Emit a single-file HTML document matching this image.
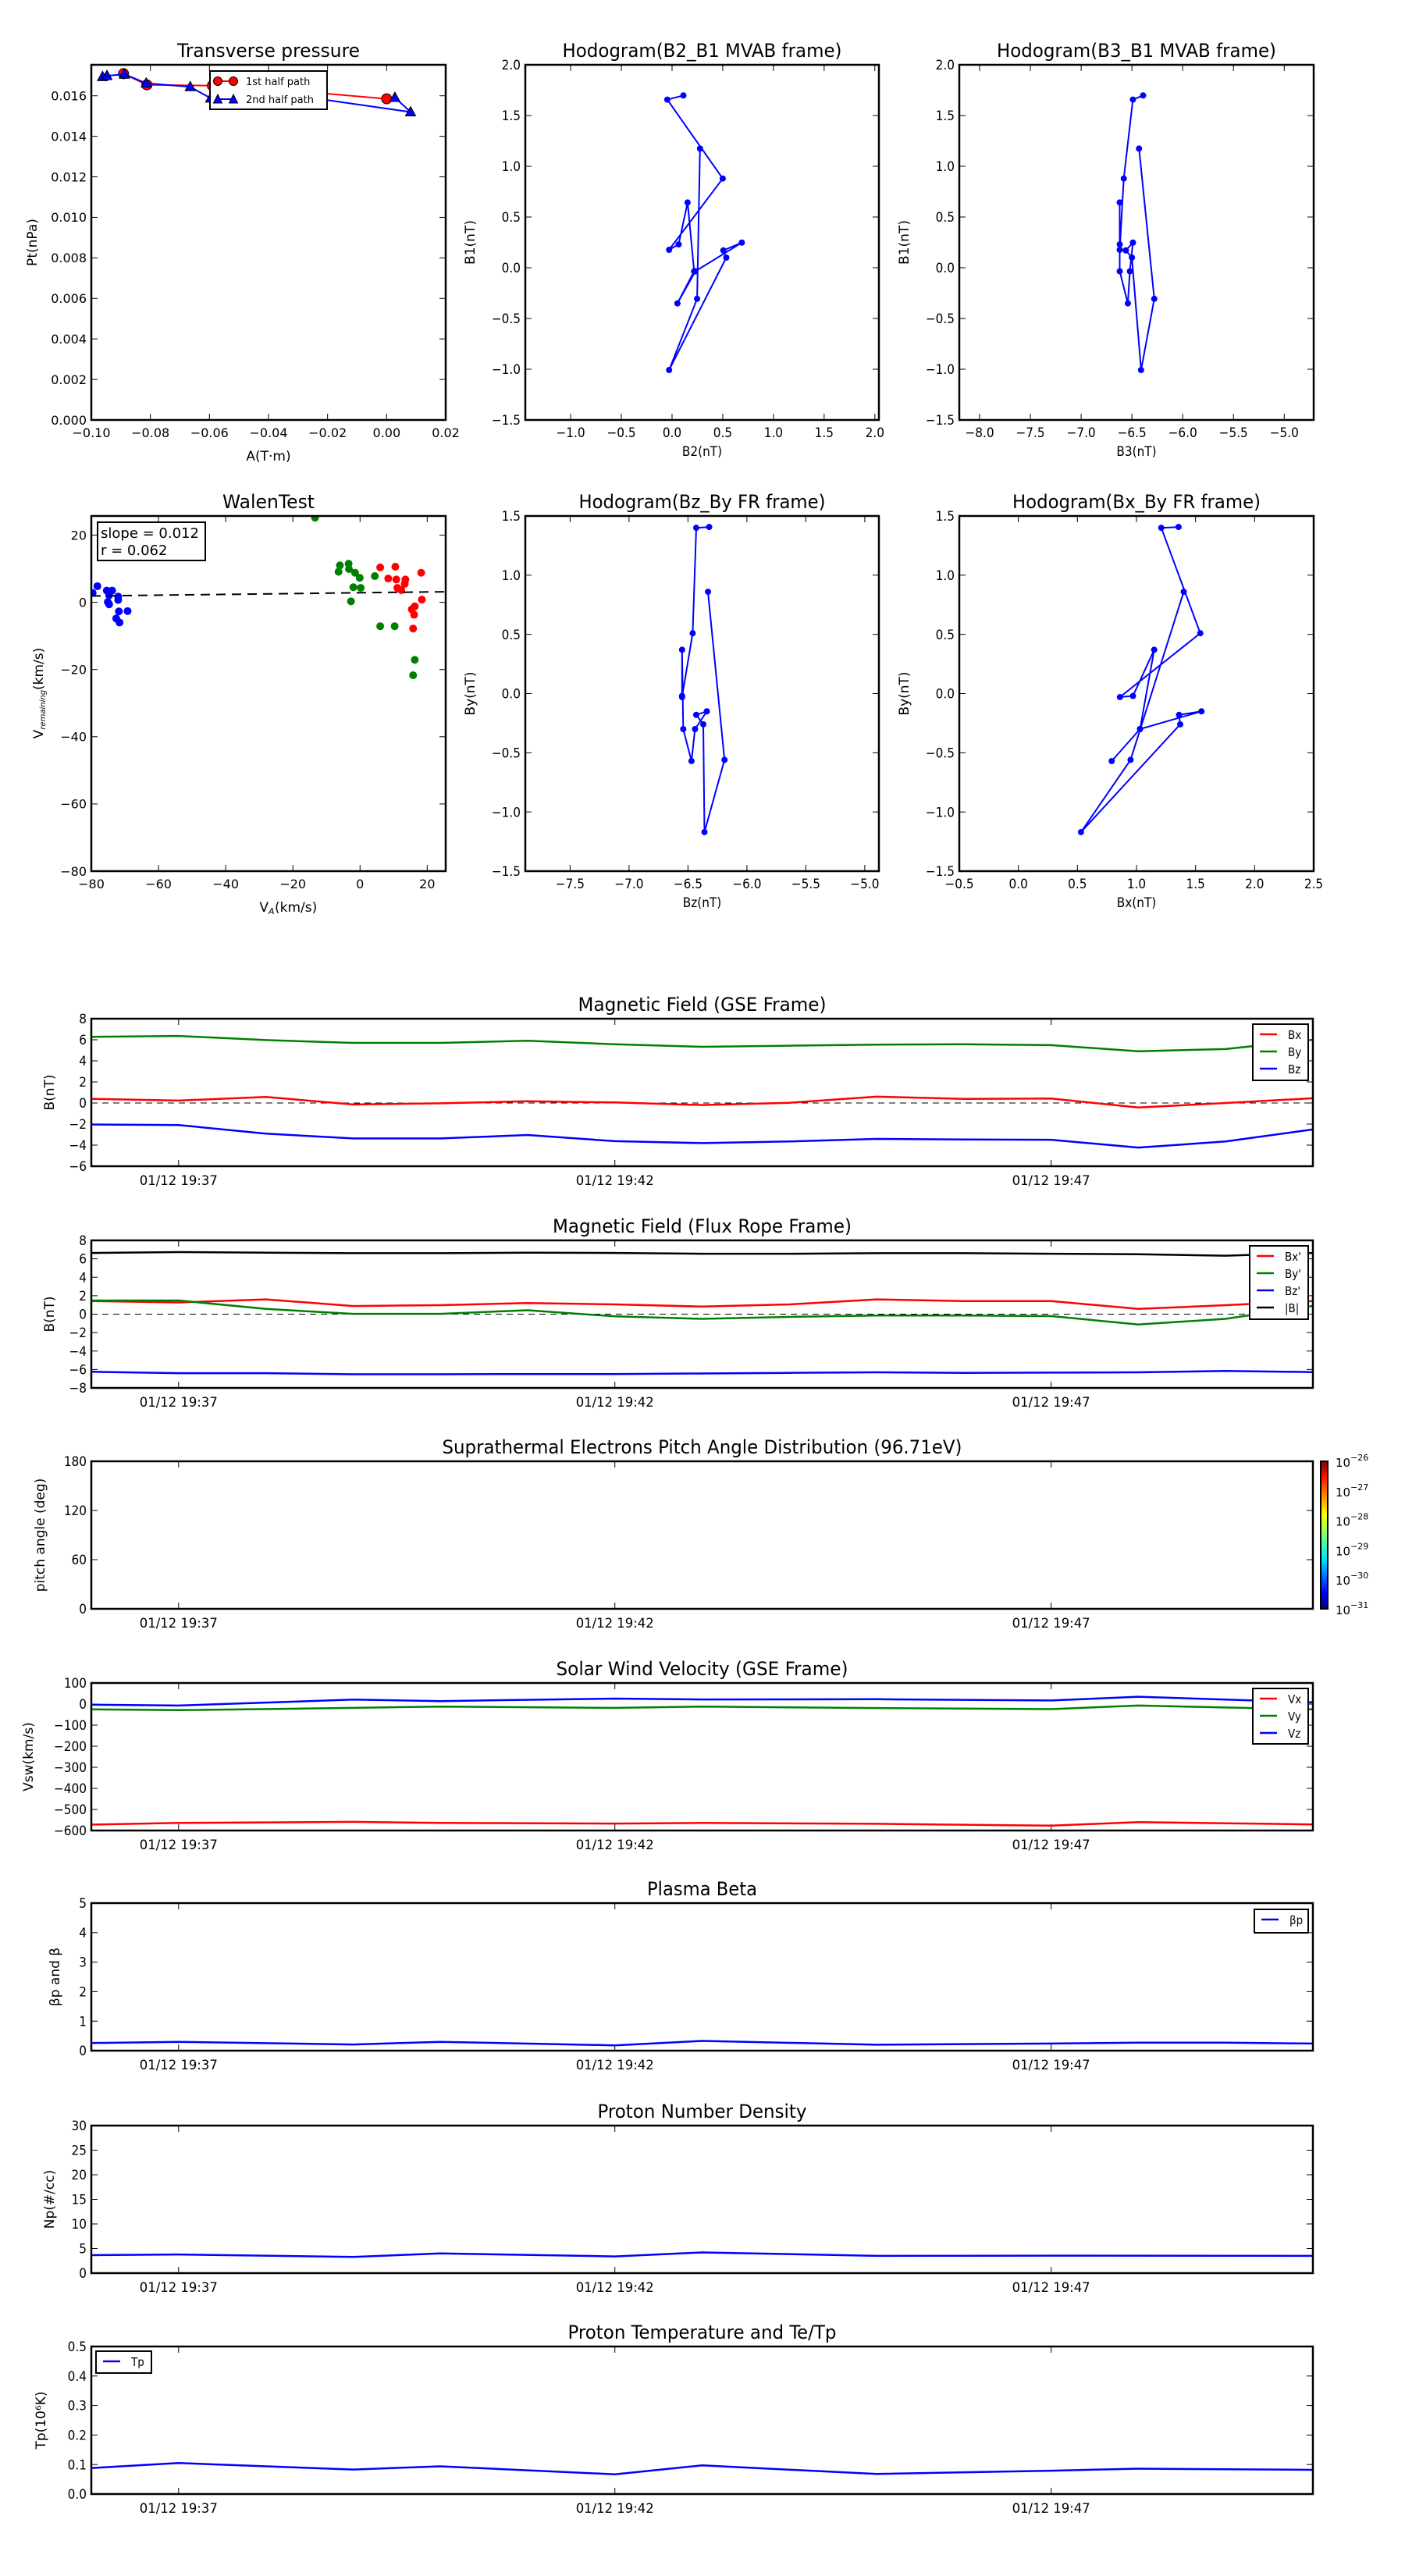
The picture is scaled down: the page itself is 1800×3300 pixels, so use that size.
<!DOCTYPE html>
<html><head><meta charset="utf-8">
<style>
html,body{margin:0;padding:0;background:#fff;}
svg{display:block;}
text{font-family:"DejaVu Sans","Liberation Sans",sans-serif;fill:#000;}
.c{font-family:"DejaVu Sans Condensed","DejaVu Sans","Liberation Sans Narrow",sans-serif;font-stretch:condensed;}
</style></head>
<body>
<svg id="fig" width="1800" height="3300" viewBox="0 0 1800 3300" xmlns="http://www.w3.org/2000/svg">
<defs>
<linearGradient id="jet" x1="0" y1="1" x2="0" y2="0">
<stop offset="0" stop-color="#00007f"/><stop offset="0.11" stop-color="#0000ff"/><stop offset="0.34" stop-color="#00e5ff"/><stop offset="0.5" stop-color="#7dff7a"/><stop offset="0.64" stop-color="#ffff00"/><stop offset="0.89" stop-color="#ff1400"/><stop offset="1" stop-color="#7f0000"/>
</linearGradient>
</defs>
</svg>
<script>
// ---- Transverse pressure data
const tpA1 = [-0.0891,-0.0812,-0.059,-0.040,0.0000];
const tpP1 = [0.01709,0.01654,0.01650,0.01635,0.01585];
const tpA2 = [-0.0962,-0.0947,-0.0888,-0.0814,-0.0665,-0.0596,-0.040,0.0081,0.0028];
const tpP2 = [0.01694,0.01699,0.01706,0.01662,0.01644,0.01588,0.01620,0.0152,0.01591];
// ---- MVAB hodogram data (time order)
const mvB1 = [1.698,1.657,0.879,0.177,0.230,0.643,-0.035,-0.351,-0.035,0.248,0.171,0.100,-1.008,-0.306,1.174];
const mvB2 = [0.112,-0.047,0.500,-0.029,0.065,0.153,0.218,0.053,0.230,0.688,0.506,0.535,-0.029,0.247,0.276];
const mvB3 = [-6.39,-6.49,-6.58,-6.62,-6.62,-6.62,-6.62,-6.54,-6.52,-6.49,-6.56,-6.50,-6.41,-6.28,-6.43];
// ---- FR hodogram data
const frBx = [1.356,1.21,1.54,0.86,0.97,1.15,1.03,0.79,1.03,1.55,1.36,1.37,0.53,0.95,1.40];
const frBy = [1.407,1.40,0.51,-0.03,-0.02,0.37,-0.30,-0.57,-0.30,-0.15,-0.18,-0.26,-1.17,-0.56,0.86];
const frBz = [-6.32,-6.43,-6.46,-6.55,-6.55,-6.55,-6.54,-6.47,-6.44,-6.34,-6.43,-6.37,-6.36,-6.19,-6.33];
// ---- Walen test
const wBlueX = [-79.6,-78.2,-75.4,-73.8,-74.7,-72.0,-72.0,-75.1,-74.7,-71.8,-69.2,-72.6,-71.6];
const wBlueY = [2.8,4.8,3.5,3.5,2.1,1.7,0.7,0.1,-0.6,-2.7,-2.6,-4.8,-6.0];
const wGreenX = [-13.4,-6.0,-6.4,-3.4,-3.3,-1.5,-0.1,-2.0,0.2,-2.7,4.4,6.0,10.3,16.3,15.8];
const wGreenY = [25.2,11.0,9.1,11.5,9.9,8.8,7.3,4.5,4.3,0.3,7.8,-7.1,-7.1,-17.1,-21.7];
const wRedX = [6.0,10.5,8.4,10.8,13.5,13.3,11.1,12.3,18.2,18.4,16.3,15.4,16.1,15.8];
const wRedY = [10.4,10.6,7.1,6.8,6.8,5.5,4.3,3.6,8.8,0.8,-1.2,-2.1,-3.7,-7.8];
const wSlope = 0.012, wIntercept = 2.85;
// ---- Time series (minutes after 19:36)
const tAll = [0,1,2,3,4,5,6,7,8,9,10,11,12,13,14];
const gseBx = [0.39,0.23,0.58,-0.14,-0.03,0.16,0.05,-0.19,0.02,0.60,0.39,0.42,-0.43,0.0,0.45];
const gseBy = [6.28,6.36,5.97,5.70,5.70,5.91,5.57,5.33,5.44,5.54,5.57,5.49,4.91,5.12,6.0];
const gseBz = [-2.04,-2.09,-2.91,-3.36,-3.36,-3.04,-3.62,-3.81,-3.65,-3.41,-3.46,-3.49,-4.23,-3.65,-2.51];
const frTx = [1.42,1.27,1.60,0.88,0.97,1.21,1.06,0.82,1.06,1.60,1.42,1.42,0.57,0.97,1.42];
const frTy = [1.48,1.48,0.57,0.03,0.03,0.42,-0.24,-0.51,-0.30,-0.15,-0.15,-0.21,-1.12,-0.51,0.91];
const frTz = [-6.25,-6.40,-6.40,-6.52,-6.52,-6.49,-6.49,-6.43,-6.37,-6.31,-6.37,-6.34,-6.31,-6.16,-6.28];
const frTb = [6.64,6.73,6.67,6.61,6.61,6.67,6.64,6.55,6.55,6.61,6.61,6.55,6.49,6.34,6.64];
const tV = [0,1,3,4,6,7,9,11,12,14];
const vx = [-572,-564,-559,-564,-567,-564,-568,-577,-560,-571];
const vy = [-25,-29,-18,-12,-18,-12,-19,-24,-7,-25];
const vz = [-3,-7,21,14,26,22,23,17,35,8];
const tBeta = [0,1,3,4,6,7,9,11,12,13,14];
const beta = [0.26,0.30,0.21,0.30,0.18,0.33,0.20,0.24,0.27,0.27,0.24];
const tNp = [0,1,3,4,6,7,9,11,14];
const np = [3.65,3.8,3.3,4.0,3.4,4.2,3.5,3.55,3.5];
const tTp = [0,1,3,4,6,7,9,11,12,14];
const tp = [0.088,0.105,0.083,0.094,0.067,0.097,0.068,0.079,0.086,0.082];
const dateTicks = [1,6,11];
const dateLabels = ["01/12 19:37","01/12 19:42","01/12 19:47"];

const NS = "http://www.w3.org/2000/svg";
const fig = document.getElementById('fig');
function mk(tag, name, attrs, parent){
  const el = document.createElementNS(NS, tag);
  
  
  for (const k in attrs) el.setAttribute(k, attrs[k]);
  (parent||fig).appendChild(el);
  return el;
}
function txt(name, x, y, s, attrs){
  const el = mk('text', name, attrs||{});
  el.setAttribute('x', x); el.setAttribute('y', y);
  el.textContent = s;
  return el;
}
function fmt(v, d){ const s = v.toFixed(d); return (v < -1e-9 ? '\u2212' + s.slice(1) : (Math.abs(v)<1e-9 ? (0).toFixed(d) : s)); }

function axes(o){
  const sx = v => o.x0 + (v - o.xmin) / (o.xmax - o.xmin) * (o.x1 - o.x0);
  const sy = v => o.y1 - (v - o.ymin) / (o.ymax - o.ymin) * (o.y1 - o.y0);
  const g = mk('g', o.name, {});
  const cls = o.cond ? 'c' : '';
  const fs = o.fs || 17;
  (o.xticks||[]).forEach((v,i)=>{
    const x = sx(v);
    mk('line','x-tick',{x1:x,x2:x,y1:o.y1,y2:o.y1-8,stroke:'#000','stroke-width':1},g);
    mk('line','x-tick-top',{x1:x,x2:x,y1:o.y0,y2:o.y0+8,stroke:'#000','stroke-width':1},g);
    if (o.xlabels) {
      const t = txt('x-tick-label', x, o.y1 + (o.xlabOff||22), o.xlabels[i], {'text-anchor':'middle','font-size':fs,class:cls});
      if (o.xlabLen) { t.setAttribute('textLength', o.xlabLen); t.setAttribute('lengthAdjust','spacingAndGlyphs'); }
    }
  });
  (o.yticks||[]).forEach((v,i)=>{
    const y = sy(v);
    mk('line','y-tick',{x1:o.x0,x2:o.x0+8,y1:y,y2:y,stroke:'#000','stroke-width':1},g);
    mk('line','y-tick-right',{x1:o.x1,x2:o.x1-8,y1:y,y2:y,stroke:'#000','stroke-width':1},g);
    txt('y-tick-label', o.x0 - 6, y + fs*0.36, o.ylabels[i], {'text-anchor':'end','font-size':fs,class:cls});
  });
  if (o.title){
    const t = txt('chart-title', (o.x0+o.x1)/2, o.y0 - 10, o.title, {'text-anchor':'middle','font-size':o.tfs||24,class:cls});
    if (o.tlen){ t.setAttribute('textLength', o.tlen); t.setAttribute('lengthAdjust','spacingAndGlyphs'); }
  }
  if (o.xtitle) txt('x-axis-title', (o.x0+o.x1)/2, o.xty, o.xtitle, {'text-anchor':'middle','font-size':o.xtfs||17,class:cls});
  if (o.ytitle) {
    const t = txt('y-axis-title', 0, 0, o.ytitle, {'text-anchor':'middle','font-size':o.ytfs||17});
    t.setAttribute('transform', `translate(${o.ytx},${(o.y0+o.y1)/2}) rotate(-90)`);
  }
  o.sx = sx; o.sy = sy; o.g = g;
  return o;
}
function frame(o){
  mk('rect','plot-frame',{x:o.x0,y:o.y0,width:o.x1-o.x0,height:o.y1-o.y0,fill:'none',stroke:'#000','stroke-width':2.5});
}
function clip(o, id){
  const cp = mk('clipPath','clip-path',{id:id});
  mk('rect','clip-rect',{x:o.x0,y:o.y0,width:o.x1-o.x0,height:o.y1-o.y0},cp);
  return 'url(#'+id+')';
}
function poly(o, xs, ys, color, name, w, cp){
  const pts = xs.map((x,i)=>o.sx(x).toFixed(1)+','+o.sy(ys[i]).toFixed(1)).join(' ');
  const a = {points:pts,fill:'none',stroke:color,'stroke-width':w||2,'stroke-linejoin':'round'};
  if (cp) a['clip-path'] = cp;
  return mk('polyline', name, a);
}
function dots(o, xs, ys, color, name, r, cp){
  xs.forEach((x,i)=>{
    const a = {cx:o.sx(x),cy:o.sy(ys[i]),r:r,fill:color,stroke:'none'};
    if (cp) a['clip-path']=cp;
    mk('circle', name, a);
  });
}
const range = (a,b,s)=>{const r=[];for(let v=a;v<=b+1e-9;v+=s) r.push(+v.toFixed(6));return r;};

// ===== Transverse pressure
{
  const yt = range(0,0.016,0.002), xt = range(-0.10,0.02,0.02);
  const o = axes({name:'transverse-pressure-chart',x0:117,x1:571,y0:83,y1:538,xmin:-0.10,xmax:0.02,ymin:0,ymax:0.01753,
    xticks:xt,xlabels:xt.map(v=>fmt(v,2)),yticks:yt,ylabels:yt.map(v=>fmt(v,3)),title:'Transverse pressure',tfs:24,tlen:234,
    xtitle:'A(T\u00b7m)',xty:590,ytitle:'Pt(nPa)',ytx:47,fs:16});
  const cp = clip(o,'cp1');
  poly(o,tpA1,tpP1,'#ff0000','first-half-line',2,cp);
  tpA1.forEach((a,i)=>mk('circle','first-half-marker',{cx:o.sx(a),cy:o.sy(tpP1[i]),r:6.5,fill:'#ff0000',stroke:'#000','stroke-width':1}));
  poly(o,tpA2,tpP2,'#0000ff','second-half-line',2,cp);
  tpA2.forEach((a,i)=>{const x=o.sx(a),y=o.sy(tpP2[i]);
    mk('polygon','second-half-marker',{points:`${x},${y-7} ${x-6.5},${y+5} ${x+6.5},${y+5}`,fill:'#0000ff',stroke:'#000','stroke-width':1});});
  frame(o);
  mk('rect','legend-box',{x:269,y:91,width:150,height:49,fill:'#fff',stroke:'#000','stroke-width':2});
  mk('line','legend-line-1st',{x1:279,x2:299,y1:104,y2:104,stroke:'#f00','stroke-width':2});
  mk('circle','legend-marker-1st',{cx:279,cy:104,r:5.5,fill:'#f00',stroke:'#000'});
  mk('circle','legend-marker-1st',{cx:299,cy:104,r:5.5,fill:'#f00',stroke:'#000'});
  txt('legend-label-1st',315,109,'1st half path',{'font-size':13});
  mk('line','legend-line-2nd',{x1:279,x2:299,y1:127,y2:127,stroke:'#00f','stroke-width':2});
  mk('polygon','legend-marker-2nd',{points:'279,121 273.5,132 284.5,132',fill:'#00f',stroke:'#000'});
  mk('polygon','legend-marker-2nd',{points:'299,121 293.5,132 304.5,132',fill:'#00f',stroke:'#000'});
  txt('legend-label-2nd',315,132,'2nd half path',{'font-size':13});
}
// ===== Hodograms
function hodo(nm, pos, xmin, xmax, ymin, ymax, xt, yt, title, tlen, xtitle, ytitle, xs, ys, id){
  const o = axes({name:nm,x0:pos[0],x1:pos[1],y0:pos[2],y1:pos[3],xmin,xmax,ymin,ymax,cond:true,
    xticks:xt,xlabels:xt.map(v=>fmt(v,1)),yticks:yt,ylabels:yt.map(v=>fmt(v,1)),title,tlen,tfs:24,
    xtitle,xty:pos[3]+46,ytitle,ytx:pos[0]-65,fs:17});
  const cp = clip(o,id);
  poly(o,xs,ys,'#0000ff','hodogram-path',2,cp);
  dots(o,xs,ys,'#0000ff','hodogram-point',4,cp);
  frame(o);
}
hodo('hodogram-b2-b1',[673,1126,83,538],-1.447,2.04,-1.5,2.0,range(-1,2,0.5),range(-1.5,2,0.5),'Hodogram(B2_B1 MVAB frame)',358,'B2(nT)','B1(nT)',mvB2,mvB1,'cp2');
hodo('hodogram-b3-b1',[1229,1683,83,538],-8.2,-4.71,-1.5,2.0,range(-8,-5,0.5),range(-1.5,2,0.5),'Hodogram(B3_B1 MVAB frame)',358,'B3(nT)','B1(nT)',mvB3,mvB1,'cp3');
hodo('hodogram-bz-by',[673,1126,661,1116],-7.88,-4.88,-1.5,1.5,range(-7.5,-5,0.5),range(-1.5,1.5,0.5),'Hodogram(Bz_By FR frame)',316,'Bz(nT)','By(nT)',frBz,frBy,'cp4');
hodo('hodogram-bx-by',[1229,1683,661,1116],-0.5,2.5,-1.5,1.5,range(-0.5,2.5,0.5),range(-1.5,1.5,0.5),'Hodogram(Bx_By FR frame)',318,'Bx(nT)','By(nT)',frBx,frBy,'cp5');
// ===== Walen test
{
  const xt = range(-80,20,20), yt = range(-80,20,20);
  const o = axes({name:'walen-test-chart',x0:117,x1:571,y0:661,y1:1116,xmin:-80,xmax:25.5,ymin:-80,ymax:25.7,
    xticks:xt,xlabels:xt.map(v=>fmt(v,0)),yticks:yt,ylabels:yt.map(v=>fmt(v,0)),title:'WalenTest',tfs:24,tlen:118,fs:16});
  const cp = clip(o,'cp6');
  dots(o,wBlueX,wBlueY,'#0000ff','walen-point-blue',5,cp);
  dots(o,wGreenX,wGreenY,'#008000','walen-point-green',5,cp);
  dots(o,wRedX,wRedY,'#ff0000','walen-point-red',5,cp);
  mk('line','walen-fit-line',{x1:o.sx(-80),x2:o.sx(25.5),y1:o.sy(wSlope*-80+wIntercept),y2:o.sy(wSlope*25.5+wIntercept),stroke:'#000','stroke-width':2,'stroke-dasharray':'12,8'});
  frame(o);
  mk('rect','stats-box',{x:125,y:669,width:138,height:49,fill:'#fff',stroke:'#000','stroke-width':2});
  txt('slope-text',129,689,'slope = 0.012',{'font-size':18});
  txt('r-text',129,711,'r = 0.062',{'font-size':18});
  txt('x-axis-title',344,1168,'V',{'text-anchor':'end','font-size':17});
  txt('x-axis-title-sub',344,1171,'A',{'font-size':11,'font-style':'italic'});
  txt('x-axis-title-rest',352,1168,'(km/s)',{'font-size':17});
  const t = txt('y-axis-title',0,0,'',{'font-size':17,'text-anchor':'middle'});
  t.innerHTML = 'V<tspan font-size="10" font-style="italic" dy="3">remaining</tspan><tspan dy="-3">(km/s)</tspan>';
  t.setAttribute('transform','translate(55,888) rotate(-90)');
}
// ===== Time series panels
const TX0 = 117, TX1 = 1682, TMIN = 0, TMAX = 14;
function tpanel(nm, y0, ymin, ymax, yt, ylab, title, tlen, ytitle, ytx){
  const o = axes({name:nm,x0:TX0,x1:TX1,y0:y0,y1:y0+189,xmin:TMIN,xmax:TMAX,ymin,ymax,cond:true,
    xticks:dateTicks,xlabels:dateLabels,xlabLen:100,xlabOff:24,yticks:yt,ylabels:ylab,title,tlen,tfs:24,
    ytitle,ytx,fs:17});
  return o;
}
function legend(x0,y0,w,h,items){
  mk('rect','legend-box',{x:x0,y:y0,width:w,height:h,fill:'#fff',stroke:'#000','stroke-width':2});
  items.forEach((it,i)=>{
    const y = y0 + 13 + i*22;
    mk('line','legend-line',{x1:x0+9,x2:x0+31,y1:y,y2:y,stroke:it[1],'stroke-width':2.5});
    txt('legend-label',x0+45,y+6,it[0],{'font-size':15,class:'c'});
  });
}
{
  const yt = range(-6,8,2);
  const o = tpanel('gse-magnetic-field-chart',1305,-6,8,yt,yt.map(v=>fmt(v,0)),'Magnetic Field (GSE Frame)',318,'B(nT)',69);
  const cp = clip(o,'cp7');
  mk('line','zero-line',{x1:TX0,x2:TX1,y1:o.sy(0),y2:o.sy(0),stroke:'#000','stroke-width':1,'stroke-dasharray':'8,6'});
  poly(o,tAll,gseBy,'#008000','by-line',2.5,cp);
  poly(o,tAll,gseBx,'#ff0000','bx-line',2.5,cp);
  poly(o,tAll,gseBz,'#0000ff','bz-line',2.5,cp);
  frame(o);
  legend(1605,1312,71,72,[['Bx','#f00'],['By','#008000'],['Bz','#00f']]);
}
{
  const yt = range(-8,8,2);
  const o = tpanel('fr-magnetic-field-chart',1589,-8,8,yt,yt.map(v=>fmt(v,0)),'Magnetic Field (Flux Rope Frame)',383,'B(nT)',69);
  const cp = clip(o,'cp8');
  mk('line','zero-line',{x1:TX0,x2:TX1,y1:o.sy(0),y2:o.sy(0),stroke:'#000','stroke-width':1,'stroke-dasharray':'8,6'});
  poly(o,tAll,frTb,'#000000','b-magnitude-line',2.5,cp);
  poly(o,tAll,frTx,'#ff0000','bx-prime-line',2.5,cp);
  poly(o,tAll,frTy,'#008000','by-prime-line',2.5,cp);
  poly(o,tAll,frTz,'#0000ff','bz-prime-line',2.5,cp);
  frame(o);
  legend(1601,1596,75,94,[["Bx'",'#f00'],["By'",'#008000'],["Bz'",'#00f'],['|B|','#000']]);
}
{
  const yt = [0,60,120,180];
  const o = tpanel('pitch-angle-chart',1872,0,180,yt,yt.map(String),'Suprathermal Electrons Pitch Angle Distribution (96.71eV)',666,'pitch angle (deg)',57);
  frame(o);
  mk('rect','colorbar',{x:1692,y:1872,width:9,height:189,fill:'url(#jet)',stroke:'#000','stroke-width':2});
  for (let i=0;i<6;i++){
    const y = 1872 + i*189/5;
    const t = txt('colorbar-label',1711,y+7,'10',{'font-size':15});
    const s = document.createElementNS(NS,'tspan');
    s.setAttribute('dy','-8'); s.setAttribute('font-size','11'); s.textContent = '\u2212'+(26+i);
    t.appendChild(s);
  }
}
{
  const yt = range(-600,100,100);
  const o = tpanel('solar-wind-velocity-chart',2156,-600,100,yt,yt.map(v=>String(v).replace('-','\u2212')),'Solar Wind Velocity (GSE Frame)',374,'Vsw(km/s)',42);
  const cp = clip(o,'cp9');
  poly(o,tV,vx,'#ff0000','vx-line',2.5,cp);
  poly(o,tV,vy,'#008000','vy-line',2.5,cp);
  poly(o,tV,vz,'#0000ff','vz-line',2.5,cp);
  frame(o);
  legend(1605,2163,71,71,[['Vx','#f00'],['Vy','#008000'],['Vz','#00f']]);
}
{
  const yt = range(0,5,1);
  const o = tpanel('plasma-beta-chart',2438,0,5,yt,yt.map(String),'Plasma Beta',141,'\u03b2p and \u03b2',76);
  const cp = clip(o,'cp10');
  poly(o,tBeta,beta,'#0000ff','beta-line',2.5,cp);
  frame(o);
  legend(1607,2446,69,30,[['\u03b2p','#00f']]);
}
{
  const yt = range(0,30,5);
  const o = tpanel('proton-density-chart',2723,0,30,yt,yt.map(String),'Proton Number Density',268,'Np(#/cc)',69);
  const cp = clip(o,'cp11');
  poly(o,tNp,np,'#0000ff','density-line',2.5,cp);
  frame(o);
}
{
  const yt = range(0,0.5,0.1);
  const o = tpanel('proton-temperature-chart',3006,0,0.5,yt,yt.map(v=>v.toFixed(1)),'Proton Temperature and Te/Tp',344,'Tp(10\u2076K)',58);
  const cp = clip(o,'cp12');
  poly(o,tTp,tp,'#0000ff','temperature-line',2.5,cp);
  frame(o);
  legend(123,3012,71,28,[['Tp','#00f']]);
}
</script>
</body></html>
